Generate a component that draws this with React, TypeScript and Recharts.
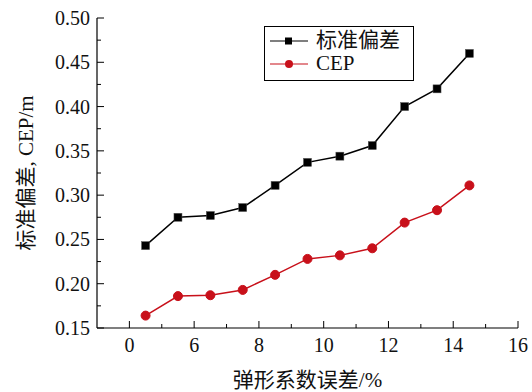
import { LineChart, Line, XAxis, YAxis } from "recharts";

// x positions of the measurements (axis shows a "0" label at the first major tick)
const xValues = [4.5, 5.5, 6.5, 7.5, 8.5, 9.5, 10.5, 11.5, 12.5, 13.5, 14.5];
const stdDev = [0.243, 0.275, 0.277, 0.286, 0.311, 0.337, 0.344, 0.356, 0.4, 0.42, 0.46];
const cep = [0.164, 0.186, 0.187, 0.193, 0.21, 0.228, 0.232, 0.24, 0.269, 0.283, 0.311];

const seriesNames = ["标准偏差", "CEP"];

const xTicks = [4, 5, 6, 7, 8, 9, 10, 11, 12, 13, 14, 15, 16];
const xMajorTicks = [4, 6, 8, 10, 12, 14, 16];
const xTickLabels = ["0", "6", "8", "10", "12", "14", "16"];
const yTicks = [0.15, 0.175, 0.2, 0.225, 0.25, 0.275, 0.3, 0.325, 0.35, 0.375, 0.4, 0.425, 0.45, 0.475, 0.5];

const data = xValues.map((x, i) => ({ x, std: stdDev[i], cep: cep[i] }));

const FONT = "'Liberation Serif', 'Noto Sans CJK SC', serif";
const RED = "#c8101a";

const YTick = (props: any) => {
  const { x, y, payload } = props;
  const major = Math.round(payload.value * 1000) % 50 === 0;
  return (
    <g>
      <line x1={x} x2={x + (major ? 7 : 4)} y1={y} y2={y} stroke="#000" strokeWidth={1} />
      {major && (
        <text x={x - 7} y={y} dy="0.35em" textAnchor="end" fontSize={20} style={{ fontFamily: FONT }} fill="#111">
          {payload.value.toFixed(2)}
        </text>
      )}
    </g>
  );
};

const XTick = (props: any) => {
  const { x, y, payload } = props;
  const idx = xMajorTicks.indexOf(payload.value);
  const major = idx >= 0;
  return (
    <g>
      <line x1={x} x2={x} y1={y} y2={y - (major ? 7 : 4)} stroke="#000" strokeWidth={1} />
      {major && (
        <text x={x} y={y + 24} textAnchor="middle" fontSize={20} style={{ fontFamily: FONT }} fill="#111">
          {xTickLabels[idx]}
        </text>
      )}
    </g>
  );
};

const SquareDot = (props: any) => {
  const { cx, cy, key } = props;
  return <rect key={key} x={cx - 4} y={cy - 4} width={8} height={8} fill="#000" stroke="#555" strokeWidth={0.5} />;
};

const CircleDot = (props: any) => {
  const { cx, cy, key } = props;
  return <circle key={key} cx={cx} cy={cy} r={4.5} fill={RED} stroke={RED} />;
};

function LegendBox() {
  return (
    <div
      style={{
        position: "absolute",
        left: 264,
        top: 26,
        width: 148,
        height: 51,
        border: "1px solid #000",
        background: "#fff",
        paddingTop: 2,
      }}
    >
      {seriesNames.map((name, i) => (
        <div key={name} style={{ display: "flex", alignItems: "center", height: 23 }}>
          <svg width={46} height={12} style={{ marginLeft: 5 }}>
            <line x1={0} x2={38} y1={6} y2={6} stroke={i === 0 ? "#000" : RED} strokeWidth={1.2} />
            {i === 0 ? (
              <rect x={15} y={2.5} width={7} height={7} fill="#000" />
            ) : (
              <circle cx={19} cy={6} r={4} fill={RED} />
            )}
          </svg>
          <span style={{ fontFamily: FONT, fontSize: 21, color: "#111", lineHeight: "23px" }}>{name}</span>
        </div>
      ))}
    </div>
  );
}

export default function App() {
  return (
    <div style={{ position: "absolute", left: 0, top: 0, width: 532, height: 392, background: "#fff" }}>
      <LineChart width={532} height={392} data={data} margin={{ top: 18, right: 14, bottom: 0, left: 0 }}>
        <XAxis
          dataKey="x"
          type="number"
          domain={[3, 16]}
          ticks={xTicks}
          interval={0}
          height={64}
          tickSize={0}
          tickMargin={0}
          tickLine={false}
          tick={<XTick />}
          axisLine={{ stroke: "#000", strokeWidth: 1.2 }}
          label={{
            value: "弹形系数误差/%",
            position: "insideBottom",
            offset: 5,
            fontSize: 21,
            fill: "#111",
            style: { fontFamily: FONT },
          }}
        />
        <YAxis
          type="number"
          domain={[0.15, 0.5]}
          ticks={yTicks}
          interval={0}
          width={97}
          tickSize={0}
          tickMargin={0}
          tickLine={false}
          tick={<YTick />}
          axisLine={{ stroke: "#000", strokeWidth: 1.2 }}
          label={{
            value: "标准偏差, CEP/m",
            angle: -90,
            position: "insideLeft",
            offset: 26,
            fontSize: 21,
            fill: "#111",
            style: { textAnchor: "middle", fontFamily: FONT },
          }}
        />
        <Line
          dataKey="std"
          name={seriesNames[0]}
          stroke="#000"
          strokeWidth={1.5}
          dot={<SquareDot />}
          activeDot={false}
          isAnimationActive={false}
        />
        <Line
          dataKey="cep"
          name={seriesNames[1]}
          stroke={RED}
          strokeWidth={1.5}
          dot={<CircleDot />}
          activeDot={false}
          isAnimationActive={false}
        />
      </LineChart>
      <LegendBox />
    </div>
  );
}
